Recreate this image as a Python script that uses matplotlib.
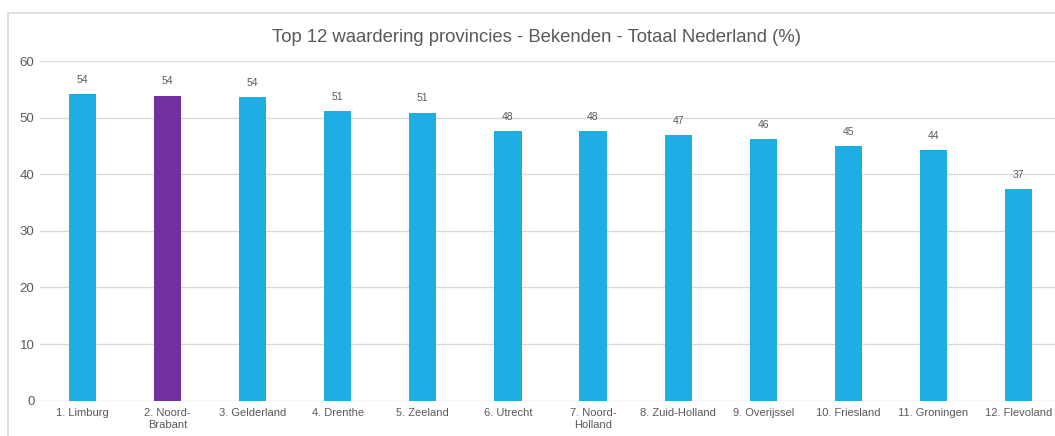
import matplotlib.pyplot as plt
from matplotlib.patches import Rectangle

plt.rcParams['font.family'] = ['Liberation Sans', 'DejaVu Sans']

# data
provinces = ['1. Limburg', '2. Noord-\nBrabant', '3. Gelderland', '4. Drenthe',
             '5. Zeeland', '6. Utrecht', '7. Noord-\nHolland', '8. Zuid-Holland',
             '9. Overijssel', '10. Friesland', '11. Groningen', '12. Flevoland']
scores = [54.2, 53.9, 53.6, 51.1, 50.9, 47.7, 47.6, 47.0, 46.2, 45.0, 44.3, 37.4]
highlight = '2. Noord-\nBrabant'

blue = '#1EAEE4'
purple = '#7030A0'
grey = '#595959'

W, H = 1055, 436
fig = plt.figure(figsize=(W / 100, H / 100), dpi=100)

# chart frame (cropped on right/bottom like the reference)
fig.patches.append(Rectangle((8 / W, -0.1), 1.2, 1 - 13 / H + 0.1,
                             transform=fig.transFigure, fill=False,
                             edgecolor='#d9d9d9', linewidth=1.2))

ax = fig.add_axes([40 / W, 1 - 400.7 / H, 1021 / W, 339.7 / H])

colors = [purple if p == highlight else blue for p in provinces]
x = range(len(provinces))
bars = ax.bar(x, scores, width=0.32, color=colors, zorder=3)

for b, v in zip(bars, scores):
    ax.text(b.get_x() + b.get_width() / 2, v + 1.6, f'{v:.0f}',
            ha='center', va='bottom', fontsize=7.5, color=grey)

ax.set_ylim(0, 60)
ax.set_xlim(-0.5, len(provinces) - 0.5)
ax.set_yticks(range(0, 61, 10))
ax.grid(axis='y', color='#d9d9d9', linewidth=1, zorder=0)
for s in ax.spines.values():
    s.set_visible(False)
ax.tick_params(axis='both', length=0, colors=grey)
ax.tick_params(axis='y', labelsize=9.5, pad=4)
ax.set_xticks(list(x))
ax.set_xticklabels(provinces, fontsize=8, linespacing=1.25)
ax.tick_params(axis='x', pad=5)

fig.text(537 / W, 1 - 38 / H, 'Top 12 waardering provincies - Bekenden - Totaal Nederland (%)',
         ha='center', va='center', fontsize=13.3, color=grey)

fig.savefig('out.png', dpi=100)
